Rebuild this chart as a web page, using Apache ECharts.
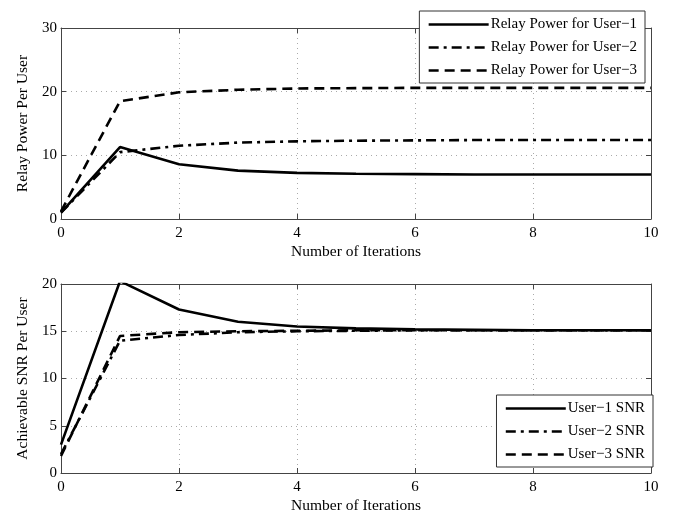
<!DOCTYPE html>
<html>
<head>
<meta charset="utf-8">
<script src="https://cdn.jsdelivr.net/npm/echarts@6/dist/echarts.min.js"></script>
<style>
html, body { margin: 0; padding: 0; background: #fff; }
#chart { width: 676px; height: 515px; }
</style>
</head>
<body>
<div id="chart"></div>
<script>
// iterations on the x axis
const iterations = [0, 1, 2, 3, 4, 5, 6, 7, 8, 9, 10];

// top panel: relay power per user
const power1 = [1.0, 11.3, 8.6, 7.6, 7.25, 7.1, 7.05, 7.0, 7.0, 7.0, 7.0];
const power2 = [1.0, 10.5, 11.5, 12.0, 12.2, 12.3, 12.35, 12.4, 12.4, 12.4, 12.4];
const power3 = [1.2, 18.5, 19.9, 20.3, 20.5, 20.55, 20.6, 20.6, 20.6, 20.6, 20.6];

// bottom panel: achievable SNR per user
const snr1 = [3.0, 20.3, 17.3, 16.0, 15.5, 15.3, 15.2, 15.15, 15.1, 15.1, 15.1];
const snr2 = [2.0, 14.0, 14.6, 14.9, 15.0, 15.05, 15.1, 15.1, 15.1, 15.1, 15.1];
const snr3 = [1.8, 14.5, 14.9, 15.0, 15.05, 15.1, 15.1, 15.1, 15.1, 15.1, 15.1];

const powerNames = ['Relay Power for User\u22121', 'Relay Power for User\u22122', 'Relay Power for User\u22123'];
const snrNames = ['User\u22121 SNR', 'User\u22122 SNR', 'User\u22123 SNR'];

const font = 'Liberation Serif';
const dashStyles = ['solid', [10, 5, 3, 5], [10, 6]];

const pairs = (ys) => iterations.map((x, i) => [x, ys[i]]);

const chart = echarts.init(document.getElementById('chart'));

function mkSeries(name, ys, k, axisIdx) {
    return {
        name,
        type: 'line',
        xAxisIndex: axisIdx,
        yAxisIndex: axisIdx,
        data: pairs(ys),
        symbol: 'none',
        showSymbol: false,
        animation: false,
        lineStyle: { color: '#000', width: 2.6, type: dashStyles[k] },
        itemStyle: { color: '#000' },
    };
}

const frameLine = { show: true, onZero: false, lineStyle: { color: '#444', width: 1 } };
const tickIn = { show: true, inside: true, length: 5, lineStyle: { color: '#444' } };
const gridDots = { show: true, lineStyle: { color: '#aaa', type: [1, 4], width: 1 } };

function mainX(gridIndex) {
    return {
        type: 'value', gridIndex, min: 0, max: 10, interval: 2,
        name: 'Number of Iterations', nameLocation: 'middle', nameGap: 25,
        nameTextStyle: { fontFamily: font, fontSize: 15.5, color: '#000' },
        axisLine: frameLine,
        axisTick: tickIn,
        axisLabel: { fontFamily: font, fontSize: 15, color: '#000', margin: 7 },
        splitLine: gridDots,
    };
}
function sideX(gridIndex) {
    return {
        type: 'value', gridIndex, min: 0, max: 10, interval: 2, position: 'top',
        axisLine: frameLine,
        axisTick: tickIn,
        axisLabel: { show: false },
        splitLine: { show: false },
    };
}
function mainY(gridIndex, max, interval, name) {
    return {
        type: 'value', gridIndex, min: 0, max, interval,
        name, nameLocation: 'middle', nameGap: 28,
        nameTextStyle: { fontFamily: font, fontSize: 15.5, color: '#000' },
        axisLine: frameLine,
        axisTick: tickIn,
        axisLabel: { fontFamily: font, fontSize: 15, color: '#000', margin: 4 },
        splitLine: gridDots,
    };
}
function sideY(gridIndex, max, interval) {
    return {
        type: 'value', gridIndex, min: 0, max, interval, position: 'right',
        axisLine: frameLine,
        axisTick: tickIn,
        axisLabel: { show: false },
        splitLine: { show: false },
    };
}

const legendBase = {
    orient: 'vertical',
    backgroundColor: '#fff',
    borderColor: '#333',
    borderWidth: 1,
    borderRadius: 0,
    padding: [6, 8, 5, 8],
    itemGap: 8,
    itemWidth: 60,
    itemHeight: 14,
    itemStyle: { opacity: 0 },
    lineStyle: { width: 2.6 },
    textStyle: { fontFamily: font, fontSize: 15, color: '#000', padding: [0, 0, 0, -3] },
};

const option = {
    backgroundColor: '#fff',
    animation: false,
    grid: [
        { left: 61, right: 25, top: 28, height: 191, show: false },
        { left: 61, right: 25, top: 284, height: 192, show: false },
    ],
    xAxis: [mainX(0), mainX(1), sideX(0), sideX(1)],
    yAxis: [
        mainY(0, 30, 10, 'Relay Power Per User'),
        mainY(1, 20, 5, 'Achievable SNR Per User'),
        sideY(0, 30, 10),
        sideY(1, 20, 5),
    ],
    legend: [
        Object.assign({}, legendBase, { data: powerNames, right: 31, top: 11 }),
        Object.assign({}, legendBase, { data: snrNames, right: 23, top: 395 }),
    ],
    series: [
        mkSeries(powerNames[0], power1, 0, 0),
        mkSeries(powerNames[1], power2, 1, 0),
        mkSeries(powerNames[2], power3, 2, 0),
        mkSeries(snrNames[0], snr1, 0, 1),
        mkSeries(snrNames[1], snr2, 1, 1),
        mkSeries(snrNames[2], snr3, 2, 1),
    ],
};

chart.setOption(option);
</script>
</body>
</html>
